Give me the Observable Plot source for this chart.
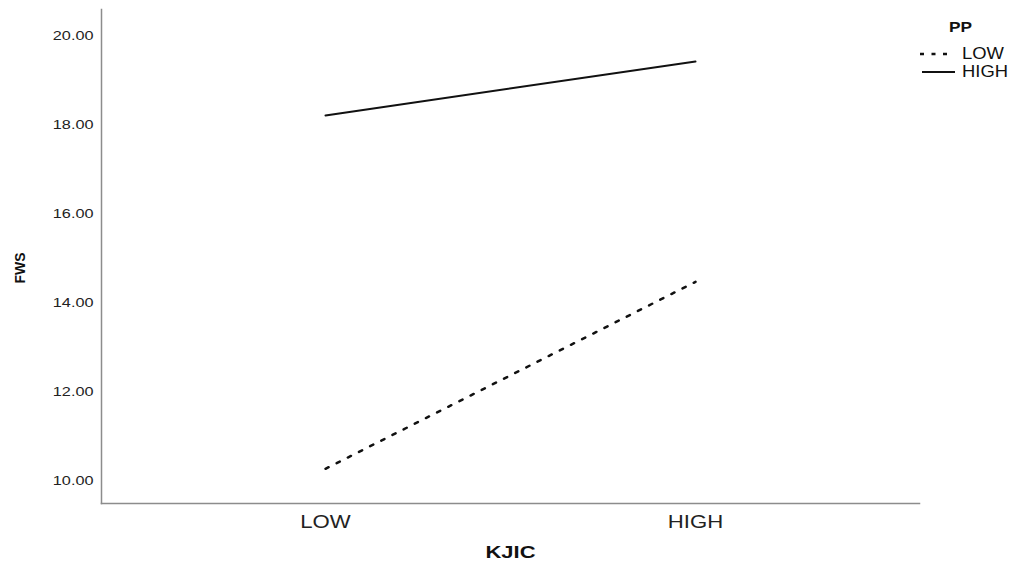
<!DOCTYPE html>
<html><head><meta charset="utf-8">
<script src="https://cdn.jsdelivr.net/npm/d3@7"></script>
<script src="https://cdn.jsdelivr.net/npm/@observablehq/plot@0.6"></script>
<style>
body{margin:0;background:#fff;font-family:"Liberation Sans",Arial,sans-serif;}
#wrap{position:relative;width:1009px;height:567px;}
#legend{position:absolute;left:918px;top:14px;width:91px;color:#111;}
#legend .ttl{position:absolute;left:31px;top:4px;font-weight:bold;font-size:15px;transform:scaleX(1.15);transform-origin:left center;}
#legend .row{position:absolute;left:0;height:18px;width:91px;}
#legend .row svg{position:absolute;left:0;top:0;}
#legend .row span{position:absolute;left:44px;top:0px;font-size:16px;line-height:18px;transform:scaleX(1.15);transform-origin:left center;}
</style></head><body><div id="wrap"></div>
<script>
const kjicLevels = ["LOW", "HIGH"];
const ppLevels = ["LOW", "HIGH"];
const fwsPpLow = [10.28, 14.48];
const fwsPpHigh = [18.22, 19.43];
const yTicks = [10, 12, 14, 16, 18, 20];

const data = [];
kjicLevels.forEach((k, i) => {
  data.push({kjic: k, pp: "LOW", fws: fwsPpLow[i]});
  data.push({kjic: k, pp: "HIGH", fws: fwsPpHigh[i]});
});

const plot = Plot.plot({
  width: 1009, height: 567,
  marginLeft: 101, marginRight: 90, marginTop: 9, marginBottom: 64,
  style: {fontFamily: "Liberation Sans, Arial, sans-serif", background: "#fff", color: "#222"},
  x: {type: "point", domain: kjicLevels, padding: 0.605, label: null},
  y: {domain: [9.5, 20.6], label: null},
  marks: [
    Plot.axisY({ticks: yTicks, tickFormat: d3.format(".2f"), tickSize: 0, tickPadding: 8, fontSize: 13, label: null}),
    Plot.axisX({tickSize: 0, tickPadding: 12, fontSize: 18, label: null}),
    Plot.frame({anchor: "left", stroke: "#8c8c8c", strokeWidth: 1.5}),
    Plot.frame({anchor: "bottom", stroke: "#8c8c8c", strokeWidth: 1.5}),
    Plot.line(data.filter(d => d.pp === "LOW"), {x: "kjic", y: "fws", stroke: "#111", strokeWidth: 2.5, strokeDasharray: "3.5,9"}),
    Plot.line(data.filter(d => d.pp === "HIGH"), {x: "kjic", y: "fws", stroke: "#111", strokeWidth: 2}),
    Plot.text(["FWS"], {text: d => d, frameAnchor: "left", dx: -81, dy: 27, rotate: -90, fontWeight: "bold", fontSize: 14, fill: "#111"}),
    Plot.text(["KJIC"], {text: d => d, frameAnchor: "bottom", dy: 54, fontWeight: "bold", fontSize: 16, fill: "#111"})
  ]
});

const wrap = document.getElementById("wrap");
wrap.appendChild(plot);

// horizontally stretch the text like the reference image
plot.querySelectorAll("text").forEach(t => {
  const s = t.textContent.trim();
  const len = t.getComputedTextLength();
  let target = null;
  if (s === "FWS") target = 31;
  else if (s === "KJIC") target = 50;
  else if (s === "LOW" || s === "HIGH") target = len * 1.23;
  else if (/^\d+\.\d\d$/.test(s)) target = len * 1.25;
  if (target) {
    t.setAttribute("textLength", target);
    t.setAttribute("lengthAdjust", "spacingAndGlyphs");
  }
});

// legend
const legend = document.createElement("div");
legend.id = "legend";
legend.innerHTML = `<div class="ttl">PP</div>`;
const rows = [{label: ppLevels[0], dash: "4,7.5", top: 31, x1: 2, x2: 35}, {label: ppLevels[1], dash: null, top: 49, x1: 4, x2: 37}];
rows.forEach(r => {
  const row = document.createElement("div");
  row.className = "row";
  row.style.top = r.top + "px";
  row.innerHTML = `<svg width="40" height="18"><line x1="${r.x1}" x2="${r.x2}" y1="9" y2="9" stroke="#111" stroke-width="${r.dash ? 2.5 : 2.2}" ${r.dash ? `stroke-dasharray="${r.dash}"` : ""}/></svg><span>${r.label}</span>`;
  legend.appendChild(row);
});
wrap.appendChild(legend);
</script>
</body></html>
